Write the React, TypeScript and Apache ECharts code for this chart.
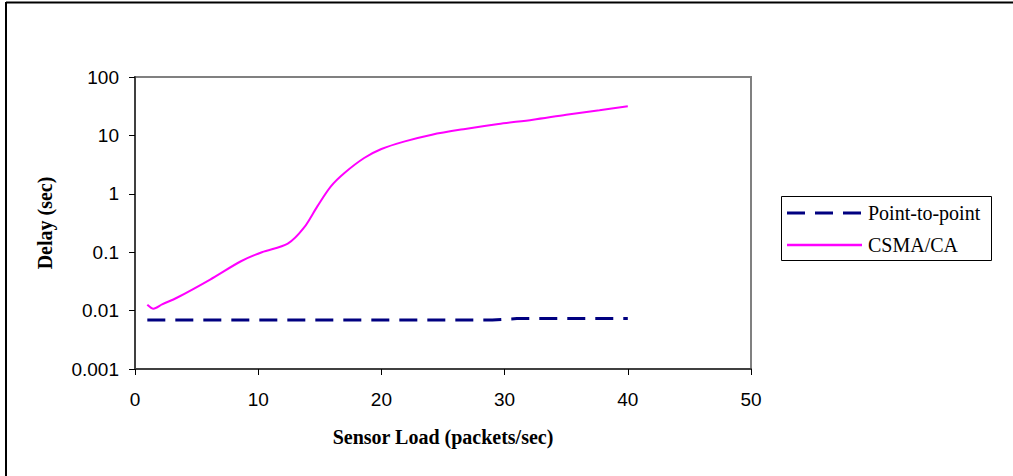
import React, { useEffect, useRef } from "react";
import * as echarts from "echarts";

const xTicks = [0, 10, 20, 30, 40, 50];
const yTickLabels = ["0.001", "0.01", "0.1", "1", "10", "100"];

const csmaX = [1, 1.5, 2.2, 3.4, 6.1, 8.6, 10.3, 12.4, 13.7, 14.8, 15.9, 17, 18.6, 20, 21.9, 24.1, 26.8, 29.5, 32.3, 35, 37.7, 40];
const csmaY = [0.0126, 0.0108, 0.0128, 0.0166, 0.034, 0.07, 0.1, 0.14, 0.26, 0.61, 1.34, 2.27, 4.1, 5.85, 7.9, 10.3, 12.9, 15.7, 18.6, 22.6, 26.9, 31.5];

const p2pX = [1, 29, 31, 40];
const p2pY = [0.0069, 0.0069, 0.0073, 0.0073];

const seriesNames = ["Point-to-point", "CSMA/CA"];
const seriesColors = ["#000080", "#ff00ff"];

export default function App() {
  const ref = useRef<HTMLDivElement>(null);
  useEffect(() => {
    if (!ref.current) return;
    const chart = echarts.init(ref.current, null, { renderer: "svg" });
    const csma = csmaX.map((x, i) => [x, csmaY[i]]);
    const p2p = p2pX.map((x, i) => [x, p2pY[i]]);
    const legendFont = { fontFamily: "Liberation Serif", fontSize: 20 };
    chart.setOption({
      animation: false,
      backgroundColor: "#ffffff",
      grid: {
        left: 135,
        right: 262,
        top: 77,
        bottom: 107,
        show: true,
        borderColor: "#808080",
        borderWidth: 2,
        backgroundColor: "transparent",
      },
      xAxis: {
        type: "value",
        min: xTicks[0],
        max: xTicks[xTicks.length - 1],
        interval: 10,
        name: "Sensor Load (packets/sec)",
        nameLocation: "middle",
        nameGap: 58,
        nameTextStyle: { fontFamily: "Liberation Serif", fontWeight: "bold", fontSize: 20, color: "#000" },
        axisLine: { show: true, onZero: false, lineStyle: { color: "#404040", width: 2 } },
        axisTick: { show: true, inside: false, length: 6, lineStyle: { color: "#000", width: 1 } },
        axisLabel: { margin: 21, fontFamily: "Liberation Sans", fontSize: 19, color: "#000" },
        splitLine: { show: false },
      },
      yAxis: {
        type: "log",
        logBase: 10,
        min: 0.001,
        max: 100,
        name: "Delay (sec)",
        nameLocation: "middle",
        nameRotate: 90,
        nameGap: 80,
        nameTextStyle: { fontFamily: "Liberation Serif", fontWeight: "bold", fontSize: 20, color: "#000" },
        axisLine: { show: true, onZero: false, lineStyle: { color: "#404040", width: 2 } },
        axisTick: { show: true, inside: false, length: 6, lineStyle: { color: "#000", width: 1 } },
        axisLabel: {
          margin: 16,
          fontFamily: "Liberation Sans",
          fontSize: 19,
          color: "#000",
          formatter: (v: number) => {
            const idx = Math.round(Math.log10(v)) + 3;
            return yTickLabels[idx] ?? String(v);
          },
        },
        splitLine: { show: false },
        minorTick: { show: false },
      },
      series: [
        {
          name: seriesNames[0],
          type: "line",
          data: p2p,
          showSymbol: false,
          symbol: "none",
          smooth: false,
          color: seriesColors[0],
          lineStyle: { color: seriesColors[0], width: 3, type: [18, 10] },
        },
        {
          name: seriesNames[1],
          type: "line",
          data: csma,
          showSymbol: false,
          symbol: "none",
          smooth: 0.3,
          color: seriesColors[1],
          lineStyle: { color: seriesColors[1], width: 2 },
        },
      ],
      graphic: [
        { type: "line", shape: { x1: 6, y1: 2.5, x2: 1013, y2: 2.5 }, style: { stroke: "#000", lineWidth: 2 } },
        { type: "line", shape: { x1: 6, y1: 2, x2: 6, y2: 476 }, style: { stroke: "#000", lineWidth: 2 } },
        {
          type: "rect",
          shape: { x: 781.5, y: 196.5, width: 210, height: 64 },
          style: { fill: "#fff", stroke: "#000", lineWidth: 1 },
        },
        {
          type: "line",
          shape: { x1: 787, y1: 213, x2: 862, y2: 213 },
          style: { stroke: seriesColors[0], lineWidth: 3, lineDash: [18, 10] },
        },
        {
          type: "text",
          x: 868,
          y: 213,
          style: { text: seriesNames[0], ...legendFont, fill: "#000", verticalAlign: "middle", align: "left" },
        },
        {
          type: "line",
          shape: { x1: 787, y1: 245, x2: 862, y2: 245 },
          style: { stroke: seriesColors[1], lineWidth: 2.5 },
        },
        {
          type: "text",
          x: 868,
          y: 245,
          style: { text: seriesNames[1], ...legendFont, fill: "#000", verticalAlign: "middle", align: "left" },
        },
      ],
    });
    return () => chart.dispose();
  }, []);
  return <div ref={ref} style={{ position: "absolute", left: 0, top: 0, width: 1013, height: 476 }} />;
}
